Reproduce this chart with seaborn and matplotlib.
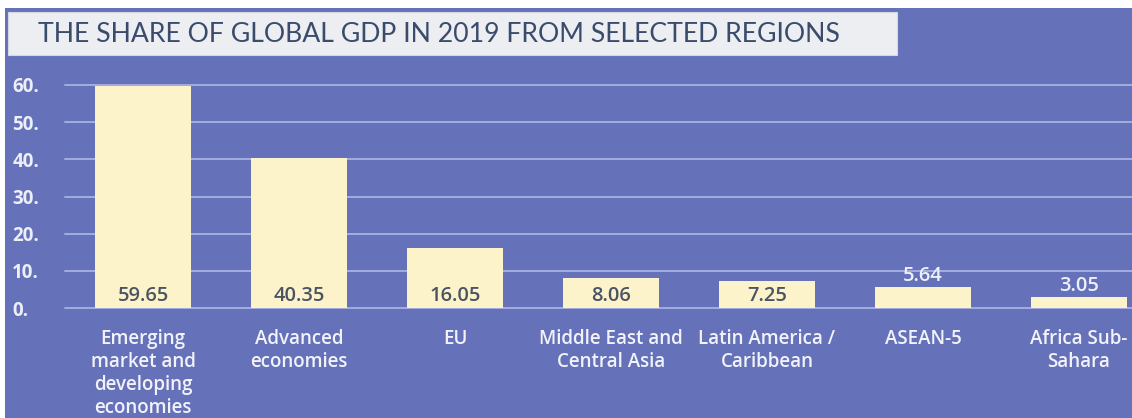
import matplotlib
matplotlib.use("Agg")
import matplotlib.pyplot as plt
from matplotlib.patches import Rectangle
import seaborn as sns
import pandas as pd

# ---- data ----
categories = [
    "Emerging\nmarket and\ndeveloping\neconomies",
    "Advanced\neconomies",
    "EU",
    "Middle East and\nCentral Asia",
    "Latin America /\nCaribbean",
    "ASEAN-5",
    "Africa Sub-\nSahara",
]
values = [59.65, 40.35, 16.05, 8.06, 7.25, 5.64, 3.05]
value_labels = ["59.65", "40.35", "16.05", "8.06", "7.25", "5.64", "3.05"]
yticks = [0, 10, 20, 30, 40, 50, 60]
ytick_labels = ["0.", "10.", "20.", "30.", "40.", "50.", "60."]
title = "THE SHARE OF GLOBAL GDP IN 2019 FROM SELECTED REGIONS"

BLUE = "#6572b9"
CREAM = "#fdf3cb"
GRID = "#aab2e2"
TICK = "#eceef8"
DARK = "#4b5463"

sns.set_theme(style="white")
plt.rcParams["font.family"] = ["Open Sans", "DejaVu Sans"]

W, H = 1132, 418
fig = plt.figure(figsize=(W / 100, H / 100), dpi=100)
fig.patch.set_facecolor("white")

# blue slide background
fig.patches.append(Rectangle((5 / W, 0), 1, (H - 8) / H, transform=fig.transFigure,
                             facecolor=BLUE, edgecolor="none", zorder=-10))
# title box
fig.patches.append(Rectangle((8 / W, 1 - 55 / H), (897 - 8) / W, 43 / H,
                             transform=fig.transFigure, facecolor="#eceef2",
                             edgecolor="#d6d8de", linewidth=0.8, zorder=-9))
fig.text(38 / W, 1 - 34 / H, title, fontsize=19.2, color="#3a4b6c",
         family=["Lato", "DejaVu Sans"], va="center", ha="left", zorder=2)

x0, x1 = 65, W
y0, y1 = 308, 85
ax = fig.add_axes([x0 / W, 1 - y0 / H, (x1 - x0) / W, (y0 - y1) / H])
ax.set_facecolor("none")

df = pd.DataFrame({"region": categories, "share": values})
sns.barplot(data=df, x="region", y="share", color=CREAM, saturation=1,
            width=0.61, ax=ax, zorder=3, edgecolor="none")

ax.set_xlim(-0.5, (x1 - 143) / 156)
ax.set_ylim(0, 60)
ax.set_yticks(yticks)
ax.set_yticklabels(ytick_labels, fontsize=13.5, color=TICK, fontweight="bold")
for y in yticks:
    ax.axhline(y, color=GRID, lw=1.3, zorder=1, clip_on=False)

ax.tick_params(axis="y", length=0, pad=38)
ax.tick_params(axis="x", length=0, pad=15)
for lab in ax.get_yticklabels():
    lab.set_horizontalalignment("left")
ax.set_xticks(range(len(categories)))
ax.set_xticklabels(categories, fontsize=13.5, color="#f2f3fa", fontweight="semibold",
                   linespacing=1.2, va="top")
ax.set_xlabel("")
ax.set_ylabel("")
for s in ax.spines.values():
    s.set_visible(False)

for i, (v, t) in enumerate(zip(values, value_labels)):
    if v > 7:
        ax.text(i, 3.3, t, ha="center", va="center", fontsize=14.5,
                color=DARK, fontweight="semibold", zorder=5)
    else:
        ax.text(i, v + 2.9, t, ha="center", va="center", fontsize=14.5,
                color="#eef0f8", fontweight="semibold", zorder=5)

fig.savefig("out.png", dpi=100, facecolor=fig.get_facecolor())
